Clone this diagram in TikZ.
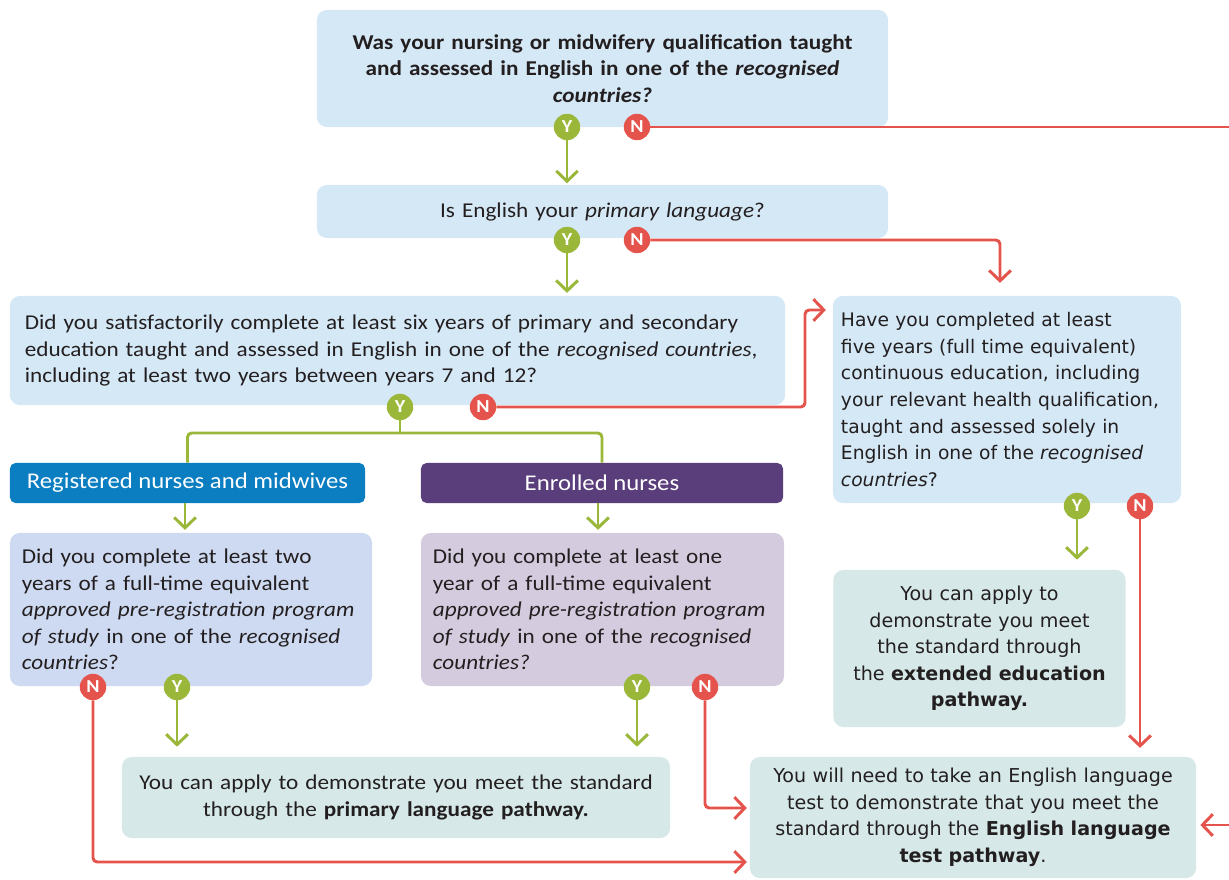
\documentclass[tikz,border=0pt]{standalone}
\usepackage{fontspec}
\setmainfont{Carlito}[FakeStretch=1.1]
\newfontfamily\widefont{DejaVu Sans}
\usetikzlibrary{arrows.meta}
\definecolor{qblue}{HTML}{D5E8F6}
\definecolor{rnblue}{HTML}{0B7DC1}
\definecolor{enpurple}{HTML}{5A3E7B}
\definecolor{rnq}{HTML}{CEDAF1}
\definecolor{enq}{HTML}{D4CCDE}
\definecolor{teal}{HTML}{D6E8E8}
\definecolor{yesgreen}{HTML}{9AB73A}
\definecolor{nored}{HTML}{E5544C}
\definecolor{ink}{HTML}{231F20}
\begin{document}
\begin{tikzpicture}[x=0.025cm,y=-0.025cm]
    \tikzstyle{box}=[rounded corners=7pt, inner xsep=0.375cm, inner ysep=0pt, text=ink, font=\fontsize{15}{18.8}\selectfont]
    \tikzstyle{wide}=[font=\widefont\fontsize{13.6}{18.9}\selectfont]
    \tikzstyle{head}=[rounded corners=4pt, text=white, font=\fontsize{16}{17}\selectfont, minimum height=1cm]
    \tikzstyle{badge}=[circle, minimum size=0.66cm, inner sep=0pt, text=white, font=\bfseries\fontsize{13}{13}\selectfont]
    \tikzstyle{yes}=[badge, fill=yesgreen]
    \tikzstyle{no}=[badge, fill=nored]
    \tikzstyle{yesline}=[draw=yesgreen, line width=2.1pt, rounded corners=3pt]
    \tikzstyle{noline}=[draw=nored, line width=2.1pt, rounded corners=3pt]
    \tikzstyle{tip}=[-{Straight Barb[length=2.6mm,width=5.4mm]}]

    \useasboundingbox (0,0) rectangle (1229,880);

    \node[box, fill=qblue, text width=13.525cm, minimum height=2.925cm, align=center, font=\bfseries\fontsize{15}{18.8}\selectfont] (qual) at (602.5,68.5)
      {Was your nursing or midwifery qualification taught\\ and assessed in English in one of the \textit{recognised}\\ \textit{countries?}};
    \node[box, fill=qblue, text width=13.525cm, minimum height=1.325cm, align=center] (prim) at (602.5,211.5)
      {Is English your \textit{primary language}?};
    \node[box, fill=qblue, text width=18.625cm, minimum height=2.725cm, align=left] (school) at (397.5,350.5)
      {Did you satisfactorily complete at least six years of primary and secondary\\ education taught and assessed in English in one of the \textit{recognised countries},\\ including at least two years between years 7 and 12?};
    \node[box, wide, fill=qblue, text width=8.3cm, minimum height=5.175cm, align=left, inner xsep=0.2cm, font=\widefont\fontsize{13.3}{18.9}\selectfont] (five) at (1007,399.5)
      {Have you completed at least\\ five years (full time equivalent)\\ continuous education, including\\ your relevant health qualification,\\ taught and assessed solely in\\ English in one of the \textit{recognised}\\ \textit{countries}?};
    \node[head, fill=rnblue, minimum width=8.875cm] (rn) at (187.5,483) {Registered nurses and midwives};
    \node[head, fill=enpurple, minimum width=9.05cm] (en) at (602,483) {Enrolled nurses};
    \node[box, fill=rnq, text width=8.45cm, minimum height=3.825cm, align=left, inner xsep=0.3cm] (rnprog) at (191,609.5)
      {Did you complete at least two\\ years of a full-time equivalent\\ \textit{approved pre-registration program}\\ \textit{of study} in one of the \textit{recognised}\\ \textit{countries}?};
    \node[box, fill=enq, text width=8.475cm, minimum height=3.825cm, align=left, inner xsep=0.3cm] (enprog) at (602.5,609.5)
      {Did you complete at least one\\ year of a full-time equivalent\\ \textit{approved pre-registration program}\\ \textit{of study} in one of the \textit{recognised}\\ \textit{countries?}};
    \node[box, fill=teal, text width=12.95cm, minimum height=2.025cm, align=center] (primpath) at (396,797.5)
      {You can apply to demonstrate you meet the standard\\ through the \textbf{primary language pathway.}};
    \node[box, wide, fill=teal, text width=6.8cm, minimum height=3.925cm, align=center, inner xsep=0.25cm] (extpath) at (979.5,648.5)
      {You can apply to\\ demonstrate you meet\\ the standard through\\ the \textbf{extended education}\\ \textbf{pathway.}};
    \node[box, wide, fill=teal, text width=10.6cm, minimum height=3.025cm, align=center, inner xsep=0.275cm] (testpath) at (973,817.5)
      {You will need to take an English language\\ test to demonstrate that you meet the\\ standard through the \textbf{English language}\\ \textbf{test pathway}.};

    \node[yes] (y1) at (567,127) {Y};
    \node[no] (n1) at (637,127) {N};
    \node[yes] (y2) at (567,240) {Y};
    \node[no] (n2) at (637,240) {N};
    \node[yes] (y3) at (400,407) {Y};
    \node[no] (n3) at (483,407) {N};
    \node[yes] (y4) at (1077,506) {Y};
    \node[no] (n4) at (1140,506) {N};
    \node[no] (n5) at (93,687) {N};
    \node[yes] (y5) at (177,687) {Y};
    \node[yes] (y6) at (637,687) {Y};
    \node[no] (n6) at (705,687) {N};

    \coordinate (split) at (400,433);
    \coordinate (bend) at (805,310);
    \coordinate (edgetop) at (1229,127);
    \coordinate (edgebot) at (1229,825);

    \path[yesline, tip, shorten >=1pt] (y1) -- (y1 |- prim.north);
    \path[yesline, tip, shorten >=2pt] (y2) -- (y2 |- school.north);
    \path[yesline] (y3) -- (split);
    \path[yesline] (rn.north) |- (split) -| (en.north);
    \path[yesline, tip, shorten >=2pt] (rn.south -| 185,0) -- (rnprog.north -| 185,0);
    \path[yesline, tip, shorten >=2pt] (en.south -| 598,0) -- (enprog.north -| 598,0);
    \path[yesline, tip, shorten >=0.25cm] (y5) -- (y5 |- primpath.north);
    \path[yesline, tip, shorten >=0.25cm] (y6) -- (y6 |- primpath.north);
    \path[yesline, tip, shorten >=0.25cm] (y4) -- (y4 |- extpath.north);

    \path[noline] (n1) -- (edgetop);
    \path[noline, tip, shorten >=0.32cm] (n2) -| ([xshift=-0.175cm]five.north);
    \path[noline, tip, shorten >=0.17cm] (n3) -| (bend) -- (five.west |- bend);
    \path[noline, tip, shorten >=0.22cm] (n4) -- (n4 |- testpath.north);
    \path[noline, tip, shorten >=2pt] (n5) |- ([yshift=-1.1125cm]testpath.west);
    \path[noline, tip, shorten >=2pt] (n6) |- ([yshift=0.2375cm]testpath.west);
    \path[noline, tip, shorten >=0.1cm] (edgebot) -- (testpath.east |- edgebot);
\end{tikzpicture}
\end{document}
